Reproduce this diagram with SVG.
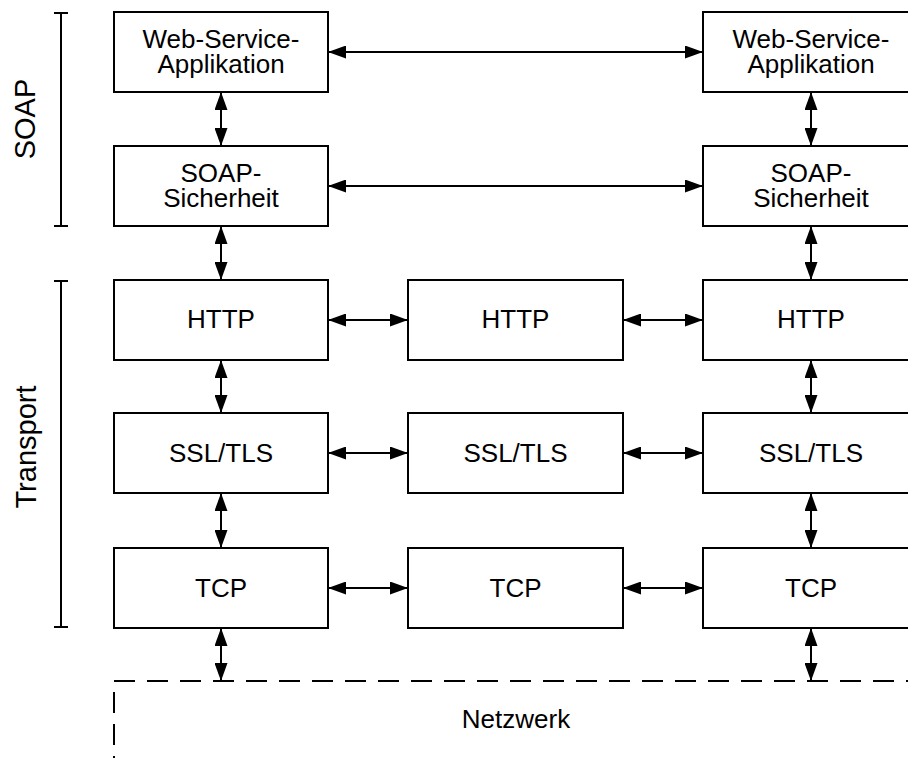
<svg xmlns="http://www.w3.org/2000/svg" width="908" height="758" viewBox="0 0 908 758">
<defs>
<marker id="ah" markerUnits="userSpaceOnUse" markerWidth="18" markerHeight="13" refX="18" refY="6.5" orient="auto-start-reverse" viewBox="0 0 18 13">
<path d="M0,0 L18,6.5 L0,13 z" fill="#000"/>
</marker>
</defs>
<style>
.box{fill:#fff;stroke:#000;stroke-width:2}
.lbl{font-family:"Liberation Sans",Arial,sans-serif;font-size:26px;fill:#000;text-anchor:middle}
.side{font-family:"Liberation Sans",Arial,sans-serif;font-size:29px;fill:#000;text-anchor:middle}
.conn line{stroke:#000;stroke-width:2;marker-start:url(#ah);marker-end:url(#ah)}
.brk{stroke:#000;stroke-width:2;fill:none}
.dash{stroke:#000;stroke-width:2;fill:none}
</style>
<rect width="908" height="758" fill="#fff"/>

<g id="bracket-soap">
<path class="brk" d="M61,13 V226 M54,13 H68 M54,226 H68"/>
<text class="side" transform="translate(35,119) rotate(-90)">SOAP</text>
</g>
<g id="bracket-transport">
<path class="brk" d="M61,281 V627 M54,281 H68 M54,627 H68"/>
<text class="side" transform="translate(36,447) rotate(-90)">Transport</text>
</g>

<g id="netzwerk">
<path class="dash" d="M114,681 H908" stroke-dasharray="21 12"/>
<path class="dash" d="M114,681 V758" stroke-dasharray="21 11" stroke-dashoffset="21"/>
<text class="lbl" x="516" y="728">Netzwerk</text>
</g>

<g id="wsa-left"><rect class="box" x="114" y="12" width="214" height="80"/><text class="lbl" x="221" y="48">Web-Service-</text><text class="lbl" x="221" y="73">Applikation</text></g>
<g id="wsa-right"><rect class="box" x="703" y="12" width="216" height="80"/><text class="lbl" x="811" y="48">Web-Service-</text><text class="lbl" x="811" y="73">Applikation</text></g>
<g id="soapsec-left"><rect class="box" x="114" y="146" width="214" height="80"/><text class="lbl" x="221" y="182">SOAP-</text><text class="lbl" x="221" y="207">Sicherheit</text></g>
<g id="soapsec-right"><rect class="box" x="703" y="146" width="216" height="80"/><text class="lbl" x="811" y="182">SOAP-</text><text class="lbl" x="811" y="207">Sicherheit</text></g>

<g id="http-left"><rect class="box" x="114" y="280" width="214" height="80"/><text class="lbl" x="221" y="328">HTTP</text></g>
<g id="http-mid"><rect class="box" x="408" y="280" width="215" height="80"/><text class="lbl" x="515.5" y="328">HTTP</text></g>
<g id="http-right"><rect class="box" x="703" y="280" width="216" height="80"/><text class="lbl" x="811" y="328">HTTP</text></g>

<g id="ssl-left"><rect class="box" x="114" y="413" width="214" height="80"/><text class="lbl" x="221" y="462">SSL/TLS</text></g>
<g id="ssl-mid"><rect class="box" x="408" y="413" width="215" height="80"/><text class="lbl" x="515.5" y="462">SSL/TLS</text></g>
<g id="ssl-right"><rect class="box" x="703" y="413" width="216" height="80"/><text class="lbl" x="811" y="462">SSL/TLS</text></g>

<g id="tcp-left"><rect class="box" x="114" y="548" width="214" height="80"/><text class="lbl" x="221" y="597">TCP</text></g>
<g id="tcp-mid"><rect class="box" x="408" y="548" width="215" height="80"/><text class="lbl" x="515.5" y="597">TCP</text></g>
<g id="tcp-right"><rect class="box" x="703" y="548" width="216" height="80"/><text class="lbl" x="811" y="597">TCP</text></g>

<g id="connectors" class="conn">
<line x1="328" y1="52" x2="703" y2="52"/>
<line x1="328" y1="186" x2="703" y2="186"/>
<line x1="328" y1="320" x2="408" y2="320"/>
<line x1="623" y1="320" x2="703" y2="320"/>
<line x1="328" y1="453" x2="408" y2="453"/>
<line x1="623" y1="453" x2="703" y2="453"/>
<line x1="328" y1="588" x2="408" y2="588"/>
<line x1="623" y1="588" x2="703" y2="588"/>
<line x1="221" y1="92" x2="221" y2="146"/>
<line x1="221" y1="226" x2="221" y2="280"/>
<line x1="221" y1="360" x2="221" y2="413"/>
<line x1="221" y1="493" x2="221" y2="548"/>
<line x1="221" y1="628" x2="221" y2="681"/>
<line x1="811" y1="92" x2="811" y2="146"/>
<line x1="811" y1="226" x2="811" y2="280"/>
<line x1="811" y1="360" x2="811" y2="413"/>
<line x1="811" y1="493" x2="811" y2="548"/>
<line x1="811" y1="628" x2="811" y2="681"/>
</g>
</svg>
